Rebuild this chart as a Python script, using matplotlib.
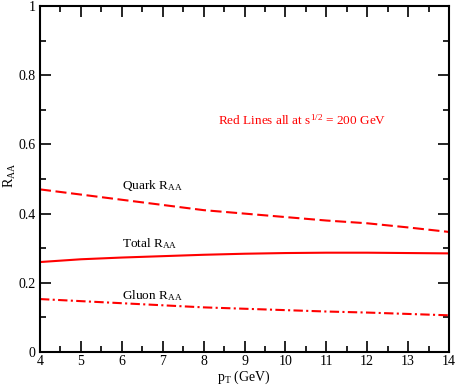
import matplotlib
matplotlib.use("Agg")
import matplotlib.pyplot as plt
from matplotlib.ticker import MultipleLocator

plt.rcParams['font.family'] = ['Liberation Serif', 'DejaVu Serif']
plt.rcParams['mathtext.fontset'] = 'custom'
plt.rcParams['mathtext.rm'] = 'Liberation Serif'
plt.rcParams['mathtext.it'] = 'Liberation Serif:italic'

pt = [4, 5, 6, 7, 8, 9, 10, 11, 12, 13, 14]
quark = [0.470, 0.455, 0.440, 0.425, 0.410, 0.400, 0.390, 0.380, 0.372, 0.360, 0.347]
total = [0.260, 0.268, 0.273, 0.277, 0.281, 0.284, 0.286, 0.287, 0.287, 0.286, 0.285]
gluon = [0.153, 0.147, 0.141, 0.135, 0.129, 0.125, 0.121, 0.117, 0.114, 0.110, 0.106]
xticks = [4, 5, 6, 7, 8, 9, 10, 11, 12, 13, 14]
yticks = [0, 0.2, 0.4, 0.6, 0.8, 1.0]
ytick_labels = ['0', '0.2', '0.4', '0.6', '0.8', '1']

W, H = 457, 386
fig = plt.figure(figsize=(W/100, H/100), dpi=100)
ax = fig.add_axes([40/W, 1-352/H, 409/W, 346/H])

red = '#ff0000'
ax.plot(pt, quark, color=red, lw=1.5, dashes=(5.3, 2.2))
ax.plot(pt, total, color=red, lw=1.5)
ax.plot(pt, gluon, color=red, lw=1.5, dashes=(4.5, 1.6, 1.0, 1.6))

ax.set_xlim(4, 14)
ax.set_ylim(0, 1)
ax.set_xticks(xticks)
ax.xaxis.set_minor_locator(MultipleLocator(0.5))
ax.set_yticks(yticks)
ax.set_yticklabels(ytick_labels)
ax.yaxis.set_minor_locator(MultipleLocator(0.1))
ax.tick_params(which='both', direction='in', top=True, right=True, labelsize=10, width=1.2)
ax.tick_params(which='major', length=8)
ax.tick_params(which='minor', length=4)
ax.tick_params(axis='x', pad=2)
ax.tick_params(axis='y', pad=3)
for s in ax.spines.values():
    s.set_linewidth(1.5)

ax.text((244-40)/409, (352-377)/346, r'p$_{\mathrm{T}}$ (GeV)', fontsize=10,
        ha='center', va='center', transform=ax.transAxes)
ax.text((10-40)/409, (352-175)/346, r'R$_{\mathrm{AA}}$', fontsize=10, rotation=90,
        ha='center', va='center', transform=ax.transAxes)

ax.text(6.0, 0.482, r'Quark R$_{\mathrm{AA}}$', fontsize=9.5, va='center')
ax.text(6.0, 0.314, r'Total R$_{\mathrm{AA}}$', fontsize=9.5, va='center')
ax.text(6.0, 0.163, r'Gluon R$_{\mathrm{AA}}$', fontsize=9.5, va='center')
ax.text(8.35, 0.67, r'Red Lines all at s$^{1/2}$ = 200 GeV', fontsize=9.5, va='center', color=red)

fig.savefig('out.png', dpi=100)
